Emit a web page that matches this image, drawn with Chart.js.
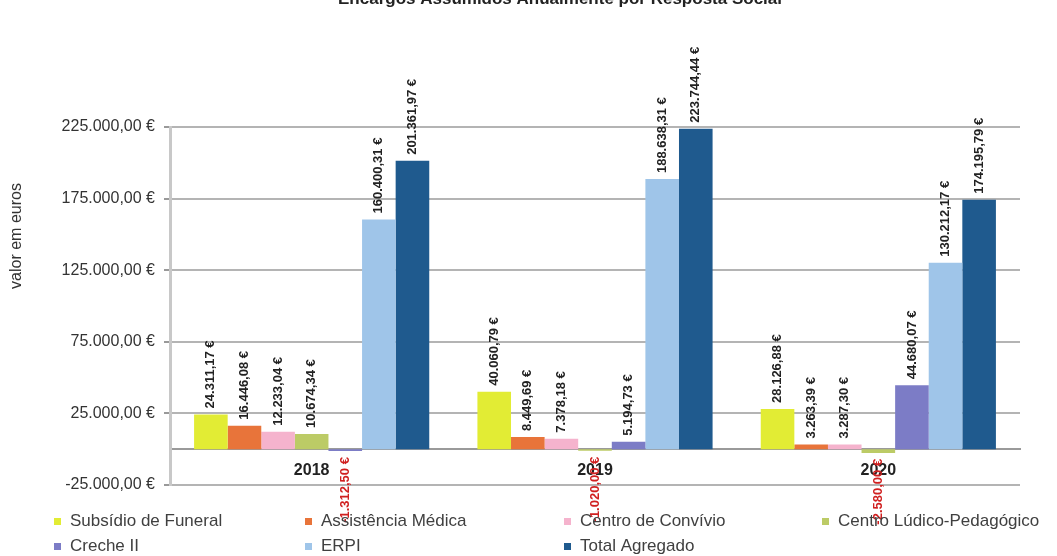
<!DOCTYPE html>
<html><head><meta charset="utf-8">
<script src="https://cdn.jsdelivr.net/npm/chart.js@4.4.0/dist/chart.umd.min.js"></script>
<style>html,body{margin:0;padding:0;background:#fff;overflow:hidden}#wrap{width:1057px;height:556px;position:relative}</style>
</head><body><div id="wrap"><canvas id="c" width="1057" height="556"></canvas></div>
<script>
const chartTitle = 'Encargos Assumidos Anualmente por Resposta Social';
const yAxisTitle = 'valor em euros';
const categories = ['2018', '2019', '2020'];
const seriesNames = ['Subsídio de Funeral', 'Assistência Médica', 'Centro de Convívio', 'Centro Lúdico-Pedagógico', 'Creche II', 'ERPI', 'Total Agregado'];
const subsidioFuneral = [24311.17, 40060.79, 28126.88];
const assistenciaMedica = [16446.08, 8449.69, 3263.39];
const centroConvivio = [12233.04, 7378.18, 3287.30];
const centroLudico = [10674.34, -1020.00, -2580.00];
const creche = [-1312.50, 5194.73, 44680.07];
const erpi = [160400.31, 188638.31, 130212.17];
const totalAgregado = [201361.97, 223744.44, 174195.79];
const yTickMin = -25000, yTickMax = 225000, yTickStep = 50000;

const seriesValues = [subsidioFuneral, assistenciaMedica, centroConvivio, centroLudico, creche, erpi, totalAgregado];
const seriesColors = ['#e2ec34', '#e8743a', '#f5b3cd', '#bccb66', '#7c7cc6', '#9fc5e9', '#1f5a8e'];

function euro(v) {
  const neg = v < 0;
  let [i, d] = Math.abs(v).toFixed(2).split('.');
  i = i.replace(/\B(?=(\d{3})+(?!\d))/g, '.');
  return (neg ? '-' : '') + i + ',' + d + ' €';
}
const FONT = '"Liberation Sans", Arial, sans-serif';

const decor = {
  id: 'decor',
  afterDraw(chart) {
    const ctx = chart.ctx;
    ctx.save();
    // title (clipped at top as in reference)
    ctx.fillStyle = '#222';
    ctx.font = 'bold 17px ' + FONT;
    ctx.textAlign = 'center';
    ctx.textBaseline = 'alphabetic';
    ctx.fillText(chartTitle, 560, 4);
    // y axis title
    ctx.save();
    ctx.translate(17, 236);
    ctx.rotate(-Math.PI / 2);
    ctx.font = '16px ' + FONT;
    ctx.fillStyle = '#333';
    ctx.textAlign = 'center';
    ctx.textBaseline = 'middle';
    ctx.fillText(yAxisTitle, 0, 0);
    ctx.restore();
    // data labels
    ctx.font = 'bold 13px ' + FONT;
    chart.data.datasets.forEach((ds, di) => {
      const meta = chart.getDatasetMeta(di);
      meta.data.forEach((bar, i) => {
        const v = ds.data[i];
        ctx.save();
        ctx.textBaseline = 'middle';
        ctx.translate(bar.x, v >= 0 ? bar.y - 6 : bar.y + 6);
        ctx.rotate(-Math.PI / 2);
        if (v >= 0) {
          ctx.textAlign = 'left';
          ctx.fillStyle = '#222';
        } else {
          ctx.textAlign = 'right';
          ctx.fillStyle = '#d02020';
        }
        ctx.fillText(euro(v), 0, 0);
        ctx.restore();
      });
    });
    // legend
    const colsX = [57, 308, 567, 825];
    const rowsY = [521, 546];
    ctx.font = '17px ' + FONT;
    ctx.textAlign = 'left';
    ctx.textBaseline = 'middle';
    seriesNames.forEach((name, k) => {
      const x = colsX[k % 4], y = rowsY[Math.floor(k / 4)];
      ctx.fillStyle = seriesColors[k];
      ctx.fillRect(x - 3, y - 3, 7, 7);
      ctx.fillStyle = '#404040';
      ctx.fillText(name, x + 13, y);
    });
    ctx.restore();
  }
};

new Chart(document.getElementById('c'), {
  type: 'bar',
  data: {
    labels: categories,
    datasets: seriesNames.map((n, k) => ({
      label: n,
      data: seriesValues[k],
      backgroundColor: seriesColors[k],
      borderWidth: 0,
      categoryPercentage: 0.83,
      barPercentage: 1.0
    }))
  },
  options: {
    responsive: false,
    devicePixelRatio: 1,
    animation: false,
    layout: { padding: { top: 127, right: 37, bottom: 71, left: 0 } },
    plugins: { legend: { display: false }, tooltip: { enabled: false }, title: { display: false } },
    scales: {
      x: {
        position: { y: 0 },
        grid: { display: false, drawTicks: false },
        border: { display: true, color: '#9a9a9a', width: 2 },
        ticks: { font: { family: FONT, size: 16, weight: 'bold' }, color: '#222', padding: 12 }
      },
      y: {
        min: yTickMin, max: yTickMax,
        ticks: { stepSize: yTickStep, callback: v => euro(v), font: { family: FONT, size: 16 }, color: '#333', padding: 9 },
        grid: { color: '#b4b4b4', lineWidth: 2, tickLength: 6, tickColor: '#999' },
        border: { color: '#c8c8c8', width: 3 },
        afterFit(s) { s.width = 170; }
      }
    }
  },
  plugins: [decor]
});
</script>
</body></html>
